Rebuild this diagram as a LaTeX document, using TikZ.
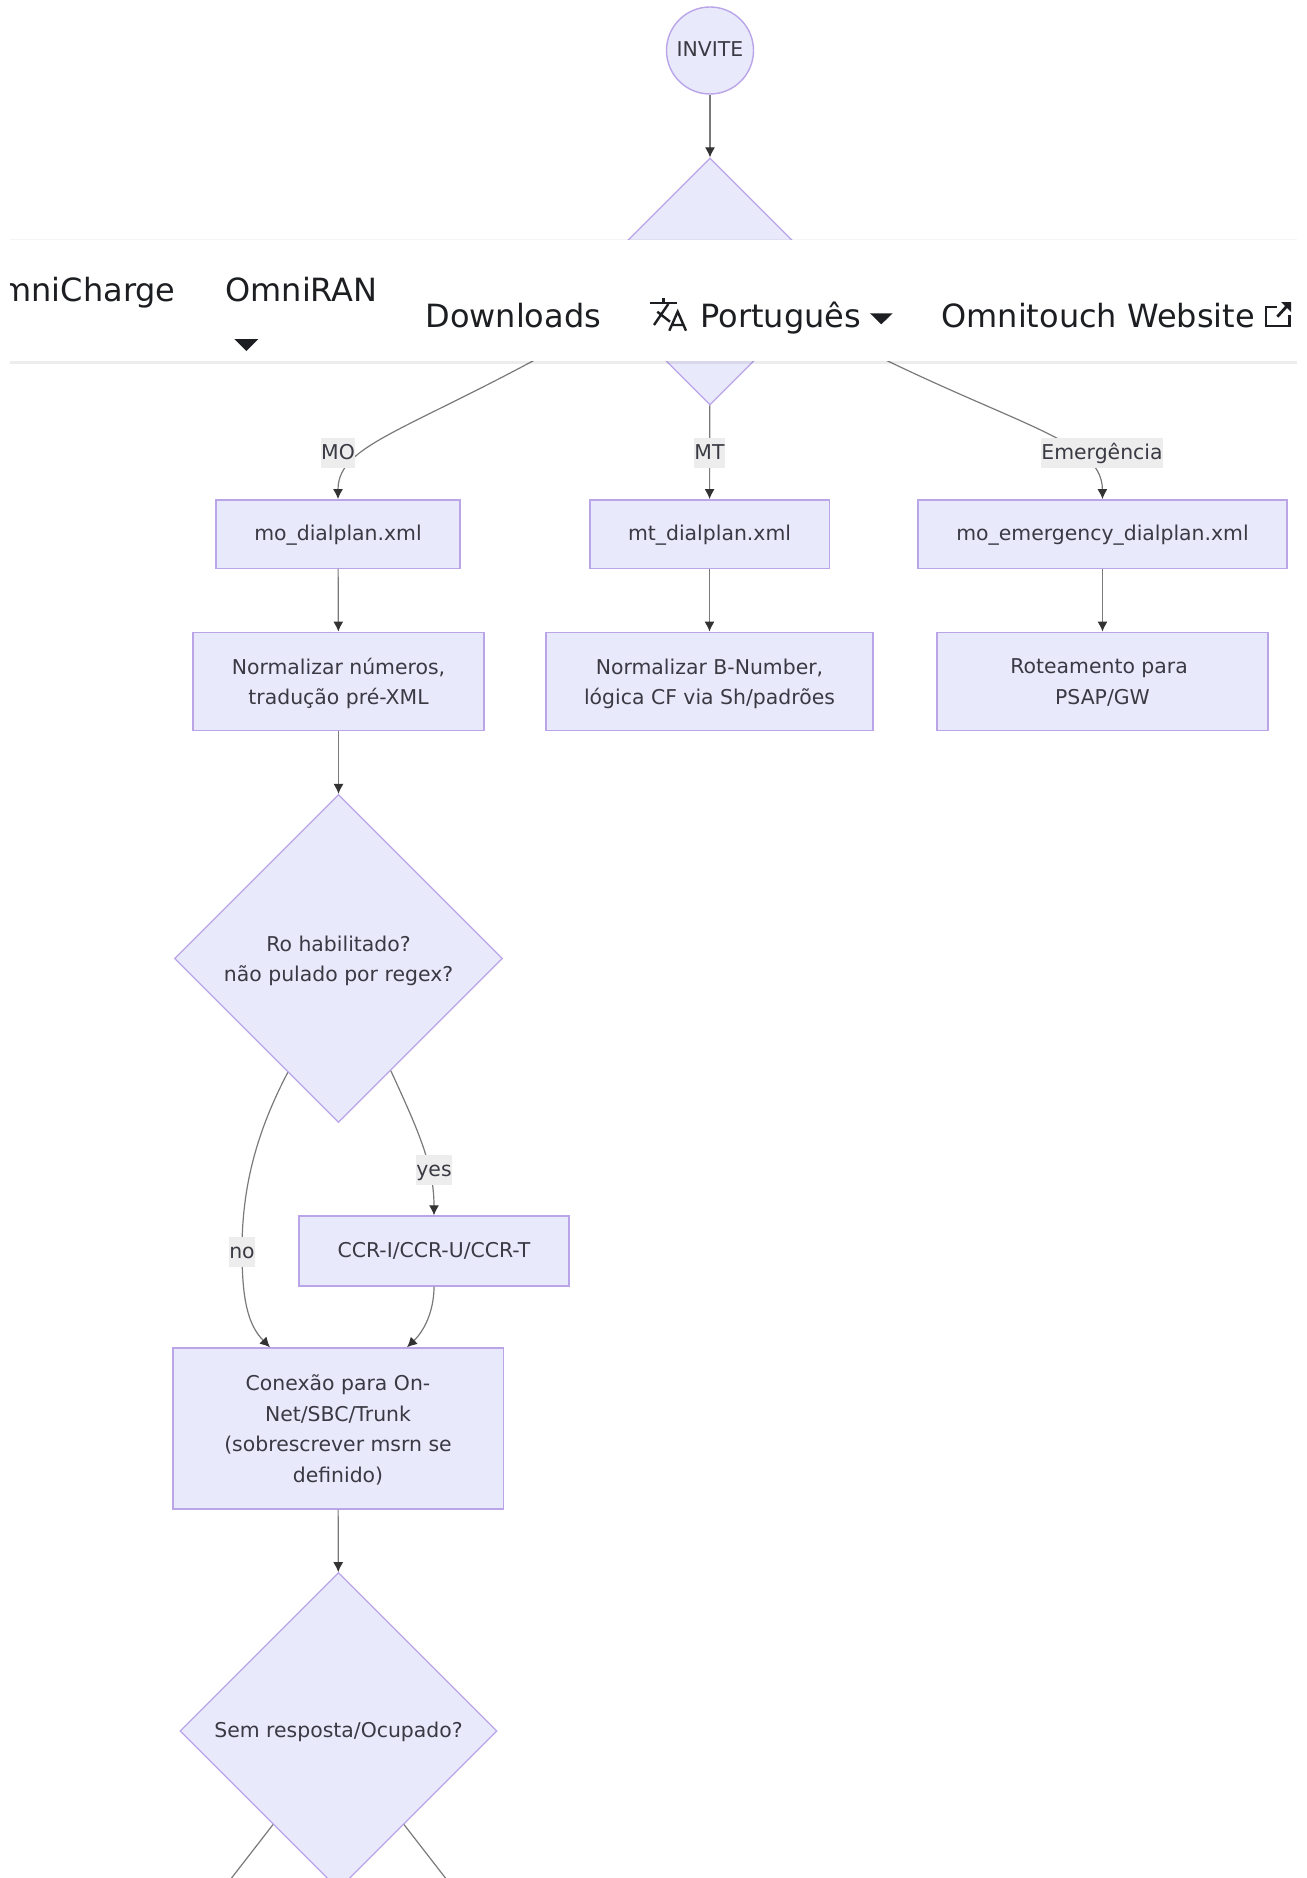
\documentclass[tikz,border=0pt]{standalone}
\usepackage{fontspec}
\setmainfont{DejaVu Sans}
\usetikzlibrary{arrows.meta,shapes.geometric}

\definecolor{nodefill}{HTML}{E9E9FC}
\definecolor{nodeline}{HTML}{B9A5E8}
\definecolor{inktext}{HTML}{3A3A44}
\definecolor{edgeline}{HTML}{7A7A7A}
\definecolor{edgetip}{HTML}{333333}
\definecolor{labelfill}{HTML}{EDEDED}
\definecolor{navtext}{HTML}{1C1E21}

\tikzset{
  x=0.5pt, y=-0.5pt,
  every node/.style={text=inktext, font=\fontsize{10.2}{15.2}\selectfont,
    execute at begin node=\strut},
  boxnode/.style={rectangle, draw=nodeline, fill=nodefill, line width=0.7pt,
    align=center, inner sep=0pt},
  diamondnode/.style={diamond, aspect=1, draw=nodeline, fill=nodefill,
    line width=0.6pt, align=center, inner sep=0pt},
  textlow/.style={text depth=0pt},
  edgelabel/.style={fill=labelfill, inner xsep=0pt, inner ysep=0pt},
  edgeline/.style={draw=edgeline, line width=0.6pt,
    -{Latex[length=5pt,width=5pt,color=edgetip]}},
  navlabel/.style={text=navtext, font=\fontsize{16}{19}\selectfont, inner sep=0pt},
  navicon/.style={draw=navtext, line width=1.2pt}
}

\begin{document}
\begin{tikzpicture}
  \clip (0,0) rectangle (1306,1878);
  \fill [white] (0,0) rectangle (1306,1878);

  % flowchart nodes
  \node [circle, draw=nodeline, fill=nodefill, line width=0.7pt, minimum size=43.5pt,
  inner sep=0pt] (invite) at (710,50.5) {INVITE};
  \node [diamondnode, minimum size=123.5pt] (gate) at (710,281.5) {};
  \node [boxnode, minimum width=122pt, minimum height=34.2pt] (modial) at (338,534) {mo\_dialplan.xml};
  \node [boxnode, minimum width=119.7pt, minimum height=34.2pt] (mtdial) at (709.5,534) {mt\_dialplan.xml};
  \node [boxnode, minimum width=184.5pt, minimum height=34.2pt] (emdial) at (1102.5,534) {mo\_emergency\_dialplan.xml};
  \node [boxnode, textlow, minimum width=145.5pt, minimum height=49.2pt] (monorm) at (338.5,681.5)
  {Normalizar números,\\tradução pré-XML};
  \node [boxnode, textlow, minimum width=163.5pt, minimum height=49.2pt] (mtnorm) at (709.5,681.5)
  {Normalizar B-Number,\\lógica CF via Sh/padrões};
  \node [boxnode, textlow, minimum width=165.5pt, minimum height=49.2pt] (emroute) at (1102.5,681.5)
  {Roteamento para\hspace*{3.4pt}\\PSAP/GW};
  \node [diamondnode, textlow, minimum size=164pt] (rocheck) at (338.5,958.5)
  {Ro habilitado?\\não pulado por regex?};
  \node [boxnode, minimum width=135pt, minimum height=35pt] (ccr) at (434,1251) {CCR-I/CCR-U/CCR-T};
  \node [boxnode, textlow, minimum width=165.2pt, minimum height=80.5pt] (connect) at (338,1428.5)
  {Conexão para On-\\Net/SBC/Trunk\\(sobrescrever msrn se\hspace*{3.4pt}\\definido)};
  \node [diamondnode, minimum size=158.5pt] (busy) at (338.5,1731) {Sem resposta/Ocupado?};
  \coordinate (busyleft) at (230,1880);
  \coordinate (busyright) at (447,1880);

  % connectors
  \draw [edgeline] (invite) -- (gate);
  \draw [edgeline] (gate.199) .. controls (420,430) and (338,440) .. (modial.north);
  \draw [edgeline] (gate) -- (mtdial);
  \draw [edgeline] (gate.-21) .. controls (1000,425) and (1102,435) .. (emdial.north);
  \draw [edgeline] (modial) -- (monorm);
  \draw [edgeline] (mtdial) -- (mtnorm);
  \draw [edgeline] (emdial) -- (emroute);
  \draw [edgeline] (monorm) -- (rocheck);
  \draw [edgeline] (rocheck.-65.6) .. controls (418,1130) and (434,1165) .. (ccr.north);
  \draw [edgeline] (rocheck.-114.4) .. controls (255,1135) and (242,1190) .. (242,1250)
  .. controls (242,1300) and (248,1325) .. (connect.north -| 270,0);
  \draw [edgeline] (ccr.south) .. controls (434,1310) and (425,1330) .. (connect.north -| 407,0);
  \draw [edgeline] (connect) -- (busy);
  \draw [edgeline, -] (busy.-125) -- (busyleft);
  \draw [edgeline, -] (busy.-55) -- (busyright);

  % edge labels
  \node [edgelabel] (lblmo) at (338,453) {MO};
  \node [edgelabel] (lblmt) at (709.5,453) {MT};
  \node [edgelabel] (lblem) at (1102,453) {Emergência};
  \node [edgelabel] (lblyes) at (434,1170) {yes};
  \node [edgelabel] (lblno) at (242,1252) {no};

  % top bar laid over the chart
  \fill [black, opacity=0.07] (10,361) rectangle (1297,364);
  \fill [white] (10,240) rectangle (1297,361);
  \fill [black, opacity=0.04] (10,239) rectangle (1297,240.5);
  \begin{scope}
    \clip (10,241) rectangle (1297,361);
    \node [navlabel, anchor=base east] (navcharge) at (176,301) {OmniCharge};
  \end{scope}
  \node [navlabel, anchor=base west] (navran) at (225,301) {OmniRAN};
  \node [navlabel, anchor=base west] (navdown) at (425,327) {Downloads};
  \node [navlabel, anchor=base west] (navlang) at (700,327) {Português};
  \node [navlabel, anchor=base west] (navsite) at (941,327) {Omnitouch Website};
  \fill [navtext] (234.3,339) -- (258.3,339) -- (246.3,351) -- cycle;
  \fill [navtext] (870,313.3) -- (892.7,313.3) -- (881.3,324.3) -- cycle;

  % language icon
  \draw [navicon] (650,302.7) -- (676.7,302.7) (663.3,298) -- (663.3,302.7);
  \draw [navicon] (654,325) -- (668.3,304) (657.3,311.7) -- (670,321.7);
  \draw [navicon] (669.3,330.7) -- (677.7,311.7) -- (686,330.7) (672,325) -- (683.3,325);

  % external link icon
  \draw [navicon] (1276.7,306.7) -- (1265.7,306.7) -- (1265.7,326) -- (1289.3,326) -- (1289.3,315);
  \draw [navicon, line width=1.4pt] (1277.3,316.7) -- (1287,306);
  \fill [navtext] (1281,302) -- (1291,302) -- (1291,312) -- cycle;
\end{tikzpicture}
\end{document}
